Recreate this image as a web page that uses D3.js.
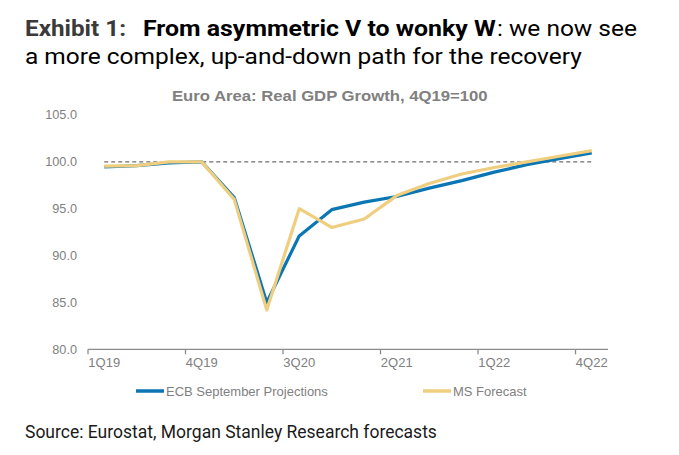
<!DOCTYPE html>
<html>
<head>
<meta charset="utf-8">
<script src="https://cdn.jsdelivr.net/npm/d3@7"></script>
<style>
  html, body { margin: 0; padding: 0; background: #fff; }
  svg { display: block; }
</style>
</head>
<body>
<svg id="chart" width="679" height="455"></svg>
<script>
const quarters = ["1Q19","2Q19","3Q19","4Q19","1Q20","2Q20","3Q20","4Q20",
                  "1Q21","2Q21","3Q21","4Q21","1Q22","2Q22","3Q22","4Q22"];
const ecb = [99.45, 99.6, 99.9, 100.0, 96.2, 85.0, 92.1, 94.9,
             95.7, 96.3, 97.2, 98.0, 98.9, 99.7, 100.35, 100.95];
const ms  = [99.55, 99.6, 100.0, 100.0, 96.0, 84.2, 95.0, 93.0,
             93.9, 96.4, 97.7, 98.7, 99.4, 100.0, 100.6, 101.2];
const yTicks = [80, 85, 90, 95, 100, 105];
const labelQuarters = ["1Q19","4Q19","3Q20","2Q21","1Q22","4Q22"];
const seriesNames = ["ECB September Projections", "MS Forecast"];
const baseline = 100;

const svg = d3.select("#chart");
const x = d3.scaleBand().domain(quarters).range([88, 608]).padding(0);
const y = d3.scaleLinear().domain([80, 105]).range([349.3, 115]);
const cx = q => x(q) + x.bandwidth() / 2;

// Text fitted horizontally with a scale transform
function fitText(x0, yb, w, size, weight, fill, txt, family) {
  const g = svg.append("g");
  const t = g.append("text").attr("x", 0).attr("y", 0)
    .style("font-family", family || "Roboto").style("font-size", size + "px")
    .style("font-weight", weight).attr("fill", fill).text(txt);
  const nat = t.node().getComputedTextLength();
  g.attr("transform", `translate(${x0},${yb}) scale(${w / nat},1)`);
  return t;
}
fitText(25, 36, 101, 21.5, 700, "#3a3a3a", "Exhibit 1:");
fitText(143, 36, 353, 21.5, 700, "#000", "From asymmetric V to wonky W");
fitText(497, 36, 140, 21.5, 400, "#000", ": we now see");
fitText(25, 64, 557, 21.5, 400, "#000", "a more complex, up-and-down path for the recovery");

// Subtitle
fitText(172, 101, 316, 14, 700, "#808080", "Euro Area: Real GDP Growth, 4Q19=100", "Liberation Sans, Arial");

// Y labels
svg.append("g").selectAll("text").data(yTicks).join("text")
  .attr("x", 77).attr("y", d => y(d)).attr("dy", "0.35em").attr("text-anchor", "end")
  .style("font-family", "Liberation Sans, Arial").style("font-size", "12.7px")
  .attr("fill", "#808080").text(d => d3.format(".1f")(d));

// X axis
const xAxis = svg.append("g").attr("transform", `translate(0,${y(80)})`);
xAxis.append("line").attr("x1", x.range()[0]).attr("x2", x.range()[1])
  .attr("stroke", "#8c8c8c").attr("stroke-width", 1.3);
xAxis.selectAll("line.tick").data(labelQuarters).join("line").attr("class", "tick")
  .attr("x1", d => x(d)).attr("x2", d => x(d)).attr("y1", 0).attr("y2", 5)
  .attr("stroke", "#8c8c8c").attr("stroke-width", 1.3);
xAxis.selectAll("text").data(labelQuarters).join("text")
  .attr("x", d => cx(d)).attr("y", 18).attr("text-anchor", "middle")
  .style("font-family", "Liberation Sans, Arial").style("font-size", "13px")
  .attr("fill", "#808080").text(d => d);

// Baseline dashed
svg.append("line").attr("x1", cx(quarters[0])).attr("x2", cx(quarters[quarters.length - 1]))
  .attr("y1", y(baseline)).attr("y2", y(baseline))
  .attr("stroke", "#6e6e6e").attr("stroke-width", 1.3).attr("stroke-dasharray", "4,3");

const line = d3.line().x((d, i) => cx(quarters[i])).y(d => y(d));
const colors = ["#0a76b4", "#efcf7f"];
[ecb, ms].forEach((s, k) => {
  svg.append("path").datum(s).attr("d", line).attr("fill", "none")
    .attr("stroke", colors[k]).attr("stroke-width", 3.2).attr("stroke-linejoin", "round");
});

// Legend
const legendPos = [136, 423];
seriesNames.forEach((n, k) => {
  const g = svg.append("g").attr("transform", `translate(${legendPos[k]},391)`);
  g.append("line").attr("x1", 0).attr("x2", 28).attr("stroke", colors[k]).attr("stroke-width", 3.5);
  g.append("text").attr("x", 30).attr("dy", "0.35em")
    .style("font-family", "Liberation Sans, Arial").style("font-size", "13px")
    .attr("fill", "#808080").text(n);
});

// Source
fitText(25, 438, 412, 18, 400, "#1a1a1a", "Source: Eurostat, Morgan Stanley Research forecasts");
</script>
</body>
</html>
